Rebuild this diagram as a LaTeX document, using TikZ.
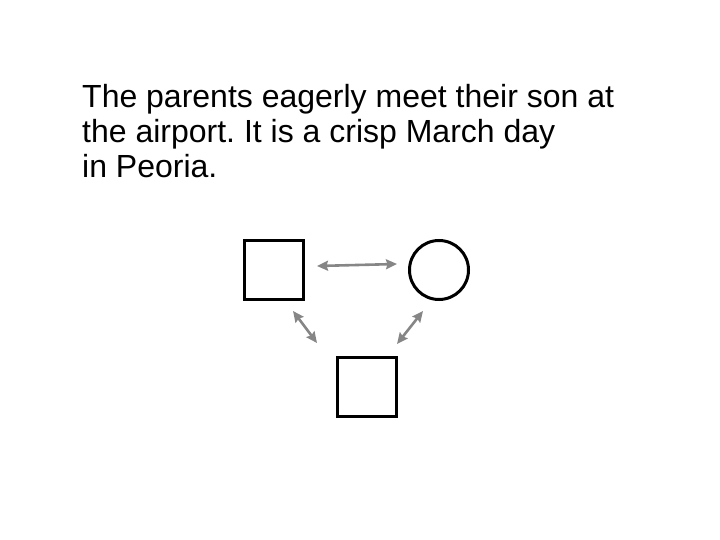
\documentclass[tikz,border=0pt]{standalone}
\usepackage{fontspec}
\setmainfont{Liberation Sans}
\usetikzlibrary{arrows.meta}
\frenchspacing
\tikzset{
  txt/.style={anchor=base west, inner sep=0pt, font=\fontsize{32}{34}\selectfont},
  sq/.style={draw=black, line width=3pt, minimum size=59pt, inner sep=0pt},
  circ/.style={draw=black, circle, line width=3pt, minimum size=59pt, inner sep=0pt},
  conn/.style={draw=gray!95, line width=2.6pt, {Stealth[length=11pt,width=10pt,inset=1.5pt]}-{Stealth[length=11pt,width=10pt,inset=1.5pt]}}
}
\begin{document}
\begin{tikzpicture}[x=1pt,y=-1pt]
\useasboundingbox (0,0) rectangle (720,540);
\node[txt] (l1) at (82,108) {The parents eagerly meet their son at};
\node[txt] (l2) at (82,143) {the airport. It is a crisp March day};
\node[txt] (l3) at (82,177.5) {in Peoria.};
\node[sq] (father) at (273.5,270) {};
\node[circ] (mother) at (439,270) {};
\node[sq] (son) at (366.5,387) {};
\coordinate (h1) at (317,266);
\coordinate (h2) at (397,264);
\coordinate (d1) at (293,311);
\coordinate (d2) at (317,343);
\coordinate (e1) at (423,311);
\coordinate (e2) at (397,344);
\draw[conn] (h1) -- (h2);
\draw[conn] (d1) -- (d2);
\draw[conn] (e1) -- (e2);
\end{tikzpicture}
\end{document}
